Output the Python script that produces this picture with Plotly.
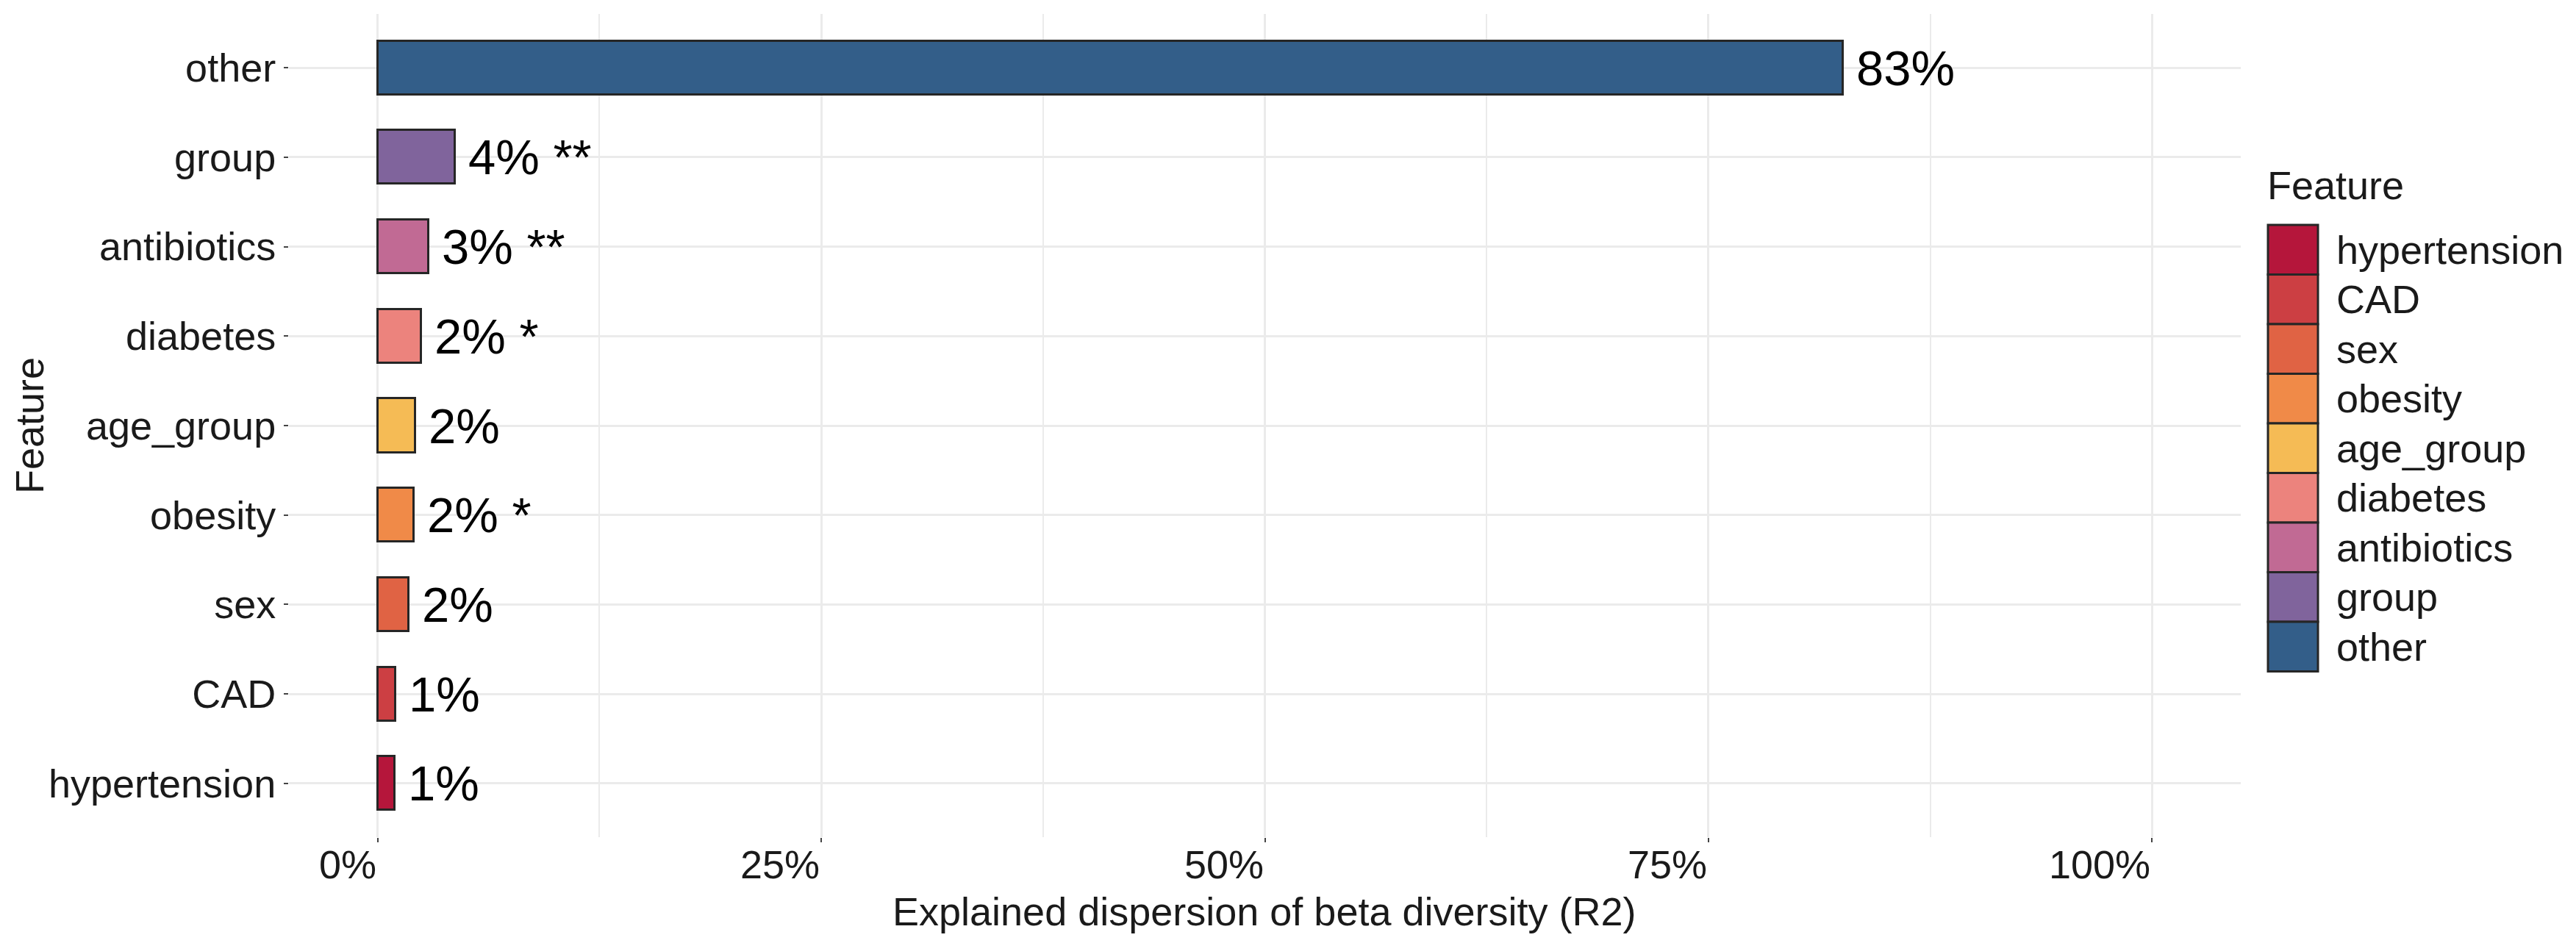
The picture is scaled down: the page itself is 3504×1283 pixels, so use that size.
import plotly.graph_objects as go

# ---------------- data ----------------
features = ["hypertension", "CAD", "sex", "obesity", "age_group",
            "diabetes", "antibiotics", "group", "other"]
r2_values = [0.0098, 0.0102, 0.0174, 0.0203, 0.0213,
             0.0244, 0.0286, 0.0435, 0.8257]
significance = ["", "", "", "*", "", "*", "**", "**", ""]
colors = ["#B5163B", "#CC3F43", "#E06344", "#F08A48", "#F5BB55",
          "#EC837D", "#C16A94", "#80649C", "#335E89"]
x_tick_values = [0, 0.25, 0.5, 0.75, 1.0]
x_tick_labels = ["0%", "25%", "50%", "75%", "100%"]
x_title = "Explained dispersion of beta diversity (R2)"
y_title = "Feature"
legend_title = "Feature"

# ---------------- layout geometry (window pixels) ----------------
OFF = 8                      # default body margin of the html page
W, H = 3504 - 2 * OFF, 1283 - 2 * OFF
PL, PR, PT, PB = 393, 3048, 19, 1139   # plot-area edges in window pixels
FONT = "Liberation Sans, Arial, Helvetica, sans-serif"
TXT = "#1A1A1A"
FS = 54
GRID = "#EBEBEB"


def px_x(X):
    return (X - PL) / (PR - PL)


def px_y(Y):
    return (PB - Y) / (PB - PT)


fig = go.Figure()
fig.add_trace(go.Bar(
    x=r2_values, y=features, orientation="h", width=0.6,
    marker=dict(color=colors, line=dict(color="#262626", width=3)),
    showlegend=False, hoverinfo="x+y",
))

annotations = []
# bar value labels
for f, v, s in zip(features, r2_values, significance):
    lab = f"{v * 100:.0f}%" + (f" {s}" if s else "")
    annotations.append(dict(
        x=v, y=f, xref="x", yref="y", text=lab, showarrow=False,
        xanchor="left", yanchor="middle", xshift=16,
        font=dict(family=FONT, size=67, color="#000000"),
    ))
# x tick labels (right aligned on tick)
for tv, tl in zip(x_tick_values, x_tick_labels):
    annotations.append(dict(
        x=tv, y=px_y(1176), xref="x", yref="paper", text=tl, showarrow=False,
        xanchor="right", yanchor="middle",
        font=dict(family=FONT, size=FS, color=TXT),
    ))
# axis titles
annotations.append(dict(
    x=px_x(1720), y=px_y(1240), xref="paper", yref="paper", text=x_title,
    showarrow=False, xanchor="center", yanchor="middle",
    font=dict(family=FONT, size=FS, color=TXT),
))
annotations.append(dict(
    x=px_x(40), y=px_y(579), xref="paper", yref="paper", text=y_title,
    showarrow=False, xanchor="center", yanchor="middle", textangle=-90,
    font=dict(family=FONT, size=FS, color=TXT),
))

# manual legend
shapes = []
KX0, KX1, KY0, KH = 3085, 3153, 306, 67.5
annotations.append(dict(
    x=px_x(3082), y=px_y(252), xref="paper", yref="paper", text=legend_title,
    showarrow=False, xanchor="left", yanchor="middle",
    font=dict(family=FONT, size=FS, color=TXT),
))
for i, (f, c) in enumerate(zip(features, colors)):
    y0 = KY0 + i * KH
    shapes.append(dict(
        type="rect", xref="paper", yref="paper",
        x0=px_x(KX0), x1=px_x(KX1), y0=px_y(y0), y1=px_y(y0 + KH),
        fillcolor=c, line=dict(color="#262626", width=3), layer="above",
    ))
    annotations.append(dict(
        x=px_x(3176), y=px_y(y0 + KH / 2), xref="paper", yref="paper", text=f,
        showarrow=False, xanchor="left", yanchor="middle",
        font=dict(family=FONT, size=FS, color=TXT),
    ))

minor_vals = [(a + b) / 2 for a, b in zip(x_tick_values[:-1], x_tick_values[1:])]

fig.update_layout(
    width=W, height=H,
    margin=dict(l=PL - OFF, r=(W + OFF) - PR, t=PT - OFF, b=(H + OFF) - PB, pad=0),
    paper_bgcolor="white", plot_bgcolor="white",
    font=dict(family=FONT, size=FS, color=TXT),
    bargap=0,
    annotations=annotations, shapes=shapes,
    xaxis=dict(
        range=[-0.05, 1.05], tickmode="array", tickvals=x_tick_values,
        showticklabels=False, ticks="outside", ticklen=6, tickwidth=2,
        tickcolor="#444444", showgrid=True, gridcolor=GRID, gridwidth=2.5,
        zeroline=False, showline=False, fixedrange=True,
        minor=dict(tickmode="array", tickvals=minor_vals, showgrid=True,
                   gridcolor=GRID, gridwidth=1.5, ticks=""),
    ),
    yaxis=dict(
        type="category", categoryorder="array", categoryarray=features,
        range=[-0.6, 8.6], ticks="outside", ticklen=6, tickwidth=2,
        tickcolor="#444444", showgrid=True, gridcolor=GRID, gridwidth=2.5,
        zeroline=False, showline=False, fixedrange=True,
        tickfont=dict(family=FONT, size=FS, color=TXT),
    ),
)

fig.write_html("out.html")
